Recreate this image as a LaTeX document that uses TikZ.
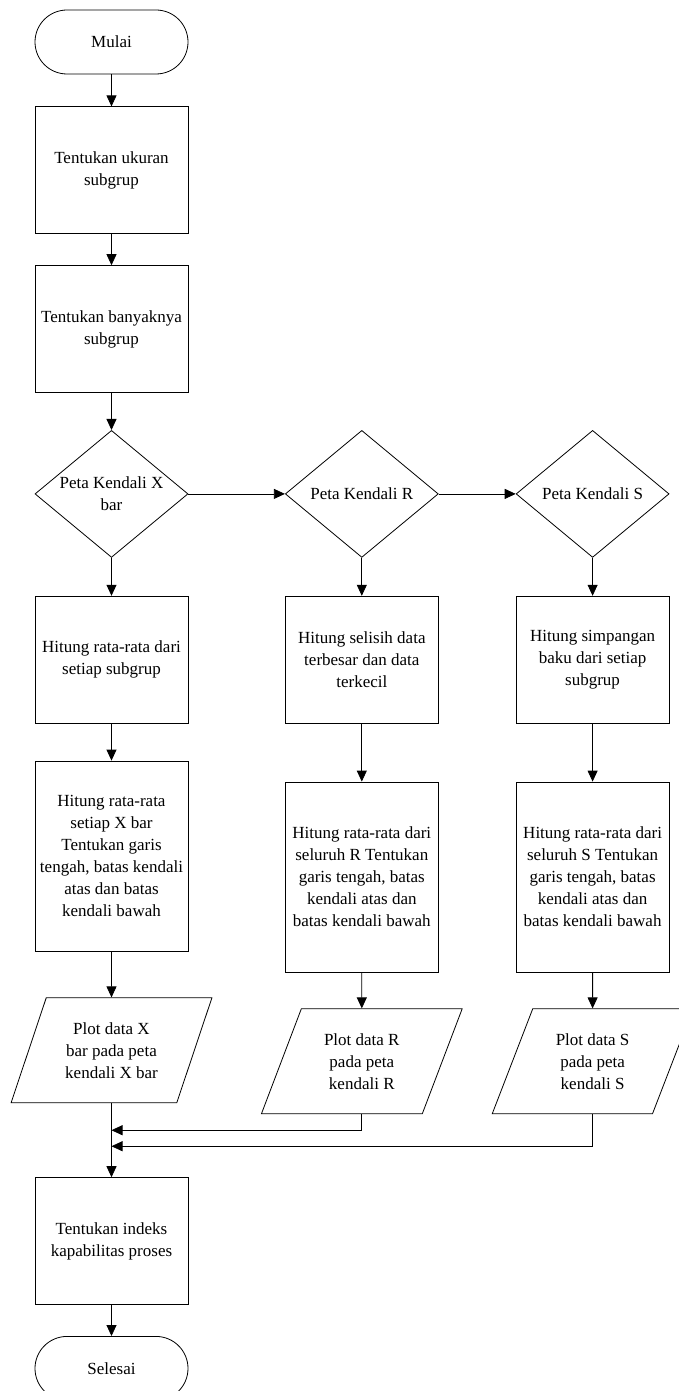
\documentclass[tikz,border=0pt]{standalone}
\usepackage{fontspec}
\setmainfont{Liberation Serif}
\usetikzlibrary{arrows.meta, positioning, shapes.geometric}

\begin{document}
\begin{tikzpicture}[x=1pt, y=-1pt,
    every node/.style={font=\fontsize{17}{22}\selectfont},
    box/.style={draw, line width=0.8pt, minimum width=153pt,
                minimum height=127pt, align=center, inner sep=0pt},
    term/.style={draw, line width=0.8pt, rounded corners=32pt,
                 minimum width=153pt, minimum height=64pt, inner sep=0pt},
    dec/.style={draw, diamond, line width=0.8pt, minimum width=153pt,
                minimum height=127pt, inner sep=0pt},
    io/.style={draw, trapezium, trapezium left angle=66,
               trapezium right angle=114, trapezium stretches=true,
               line width=0.8pt, minimum width=201pt, minimum height=105pt,
               align=center, inner sep=0pt},
    arr/.style={-{Triangle[length=11pt, width=10pt]}, line width=0.8pt}
]
    \useasboundingbox (0,0) rectangle (679,1391);
    \clip (0,0) rectangle (679,1391);

    % Start
    \node[term] (mulai) at (111.5,42) {Mulai};

    % Subgroup setup
    \node[box, below=32pt of mulai] (ukuran) {Tentukan ukuran\\subgrup};
    \node[box, below=31pt of ukuran] (banyak) {Tentukan banyaknya\\subgrup};

    % Chart choices
    \node[dec, below=37pt of banyak,
          label={[align=center]center:Peta Kendali X\\bar}] (petax) {};
    \node[dec, right=96.5pt of petax, label=center:Peta Kendali R] (petar) {};
    \node[dec, right=77pt of petar, label=center:Peta Kendali S] (petas) {};

    % X bar column
    \node[box, below=38pt of petax] (hitx) {Hitung rata-rata dari\\setiap subgrup};
    \node[box, minimum height=190pt, below=37pt of hitx]
         (garisx) {Hitung rata-rata\\setiap X bar\\Tentukan garis\\tengah, batas kendali\\atas dan batas\\kendali bawah};
    \node[io, below=46pt of garisx] (plotx) {Plot data X\\bar pada peta\\kendali X bar};

    % R column
    \node[box, below=38pt of petar] (hitr) {Hitung selisih data\\terbesar dan data\\terkecil};
    \node[box, minimum height=190pt, below=58pt of hitr]
         (garisr) {Hitung rata-rata dari\\seluruh R Tentukan\\garis tengah, batas\\kendali atas dan\\batas kendali bawah};
    \node[io, below=36pt of garisr] (plotr) {Plot data R\\pada peta\\kendali R};

    % S column
    \node[box, below=38pt of petas] (hits) {Hitung simpangan\\baku dari setiap\\subgrup};
    \node[box, minimum height=190pt, below=58pt of hits]
         (gariss) {Hitung rata-rata dari\\seluruh S Tentukan\\garis tengah, batas\\kendali atas dan\\batas kendali bawah};
    \node[io, below=36pt of gariss] (plots) {Plot data S\\pada peta\\kendali S};

    % Capability and end
    \node[box, below=74pt of plotx] (indeks) {Tentukan indeks\\kapabilitas proses};
    \node[term, below=31pt of indeks] (selesai) {Selesai};

    % Join points on the left line
    \coordinate[below=16pt of plotr.south] (rdown);
    \coordinate[below=32pt of plots.south] (sdown);
    \coordinate (jr) at (rdown -| plotx.south);
    \coordinate (js) at (sdown -| plotx.south);

    % Arrows
    \draw[arr] (mulai) -- (ukuran);
    \draw[arr] (ukuran) -- (banyak);
    \draw[arr] (banyak) -- (petax);
    \draw[arr] (petax) -- (petar);
    \draw[arr] (petar) -- (petas);
    \draw[arr] (petax) -- (hitx);
    \draw[arr] (petar) -- (hitr);
    \draw[arr] (petas) -- (hits);
    \draw[arr] (hitx) -- (garisx);
    \draw[arr] (hitr) -- (garisr);
    \draw[arr] (hits) -- (gariss);
    \draw[arr] (garisx) -- (plotx);
    \draw[arr] (garisr) -- (plotr);
    \draw[arr] (gariss) -- (plots);
    \draw[arr] (plotx.south) -- (indeks.north);
    \draw[arr] (plotr.south) |- (jr);
    \draw[arr] (plots.south) |- (js);
    \draw[arr] (indeks) -- (selesai);
\end{tikzpicture}
\end{document}
